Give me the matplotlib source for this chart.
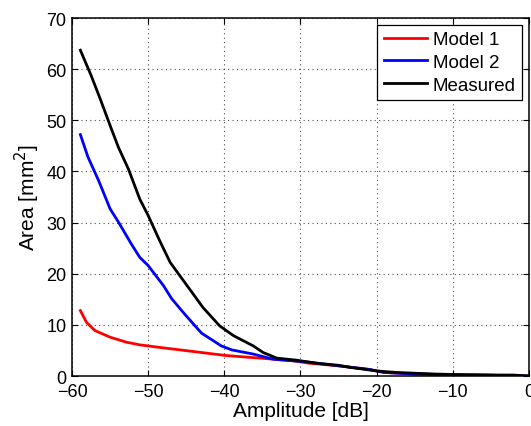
import numpy as np
import matplotlib.pyplot as plt

plt.rcParams['font.family'] = ['Liberation Sans', 'DejaVu Sans']

# amplitude [dB] and area [mm^2]
amp_meas = [-58.9, -57.5, -56.3, -55.0, -53.9, -52.6, -51.1, -50.0, -48.5, -47.1,
            -44.9, -42.8, -40.6, -38.8, -36.2, -34.9, -33.1, -30.5, -27.9, -25.0,
            -23.5, -20.0, -17.4, -12.6, -8.2, -4.0, -2.1, 0.0]
area_meas = [63.7, 58.8, 54.2, 49.0, 44.7, 40.5, 34.6, 31.4, 26.5, 22.2,
             17.7, 13.4, 9.8, 7.9, 5.9, 4.6, 3.5, 3.1, 2.5, 2.1,
             1.7, 1.0, 0.7, 0.4, 0.25, 0.2, 0.2, 0.0]

amp_m2 = [-58.9, -57.9, -56.5, -55.0, -53.9, -52.2, -51.1, -50.0, -48.0, -46.9,
          -45.2, -43.0, -40.4, -39.0, -36.2, -33.6, -28.8, -25.0, -21.0, -19.0,
          -15.0, -10.0, -5.0, 0.0]
area_m2 = [47.2, 42.8, 38.2, 32.7, 30.1, 25.8, 23.2, 21.6, 17.7, 15.1,
           12.1, 8.4, 5.9, 5.1, 4.3, 3.3, 2.7, 2.0, 1.3, 0.7,
           0.4, 0.25, 0.15, 0.0]

amp_m1 = [-58.9, -58.1, -57.0, -55.0, -52.8, -51.1, -48.5, -44.1, -39.7, -35.3,
          -31.0, -28.8, -25.0, -21.0, -19.0, -15.0, -10.0, -5.0, 0.0]
area_m1 = [12.8, 10.5, 8.9, 7.6, 6.6, 6.1, 5.6, 4.8, 4.0, 3.5,
           3.0, 2.5, 2.0, 1.3, 0.7, 0.4, 0.25, 0.15, 0.0]

fig = plt.figure(figsize=(5.31, 4.27), dpi=100)
ax = fig.add_axes([0.1356, 0.117, 0.8604, 0.8385])

ax.plot(amp_m1, area_m1, color='red', lw=2.0, label='Model 1')
ax.plot(amp_m2, area_m2, color='blue', lw=2.0, label='Model 2')
ax.plot(amp_meas, area_meas, color='black', lw=2.0, label='Measured')

ax.set_xlim(-60, 0)
ax.set_ylim(0, 70)
ax.set_xticks(np.arange(-60, 1, 10))
ax.set_yticks(np.arange(0, 71, 10))
ax.set_xticklabels(['\u221260', '\u221250', '\u221240', '\u221230', '\u221220', '\u221210', '0'])
ax.tick_params(direction='in', top=True, right=True, labelsize=13, length=4)
ax.tick_params(axis='x', pad=5)
ax.tick_params(axis='y', pad=4)
ax.grid(True, linestyle=(0, (1, 3)), color='0.3', linewidth=0.8)
for s in ax.spines.values():
    s.set_linewidth(1.1)

ax.set_xlabel('Amplitude [dB]', fontsize=15, labelpad=1)
ax.set_ylabel('Area [mm$^2$]', fontsize=15, labelpad=3)

leg = ax.legend(loc='upper right', fontsize=13.5, fancybox=False, framealpha=1,
                edgecolor='black', borderaxespad=0.35, handlelength=2.3,
                labelspacing=0.3, borderpad=0.35, handletextpad=0.3)
leg.get_frame().set_linewidth(0.9)

fig.savefig('out.png', dpi=100)
